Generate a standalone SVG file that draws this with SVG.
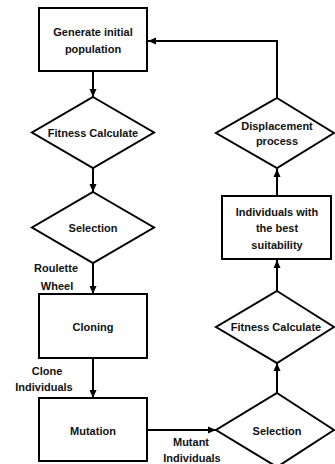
<svg xmlns="http://www.w3.org/2000/svg" width="335" height="464" viewBox="0 0 335 464">
<style>
.shape{fill:#fff;stroke:#000;stroke-width:2}
.conn{fill:none;stroke:#000;stroke-width:2}
text{font-family:"Liberation Sans",Arial,sans-serif;font-weight:bold;font-size:11px;fill:#111;text-anchor:middle}
</style>
<defs>
<marker id="arr" viewBox="0 0 8 8" refX="8" refY="4" markerWidth="8" markerHeight="8" markerUnits="userSpaceOnUse" orient="auto">
<path d="M0,0.5 L8,4 L0,7.5 Z" fill="#000"/>
</marker>
</defs>
<rect width="335" height="464" fill="#fff"/>
<g id="connectors">
<line class="conn" x1="93" y1="71" x2="93" y2="97" marker-end="url(#arr)"/>
<line class="conn" x1="93" y1="168" x2="93" y2="192" marker-end="url(#arr)"/>
<line class="conn" x1="93" y1="263" x2="93" y2="294" marker-end="url(#arr)"/>
<line class="conn" x1="93" y1="358" x2="93" y2="398" marker-end="url(#arr)"/>
<line class="conn" x1="147" y1="430" x2="216" y2="430" marker-end="url(#arr)"/>
<line class="conn" x1="277" y1="393" x2="277" y2="363" marker-end="url(#arr)"/>
<line class="conn" x1="277" y1="291" x2="277" y2="260" marker-end="url(#arr)"/>
<line class="conn" x1="277" y1="196" x2="277" y2="169" marker-end="url(#arr)"/>
<polyline class="conn" points="277,98 277,41 148,41" marker-end="url(#arr)"/>
<text x="56" y="272">Roulette</text>
<text x="57" y="290">Wheel</text>
<text x="47" y="375">Clone</text>
<text x="44" y="391">Individuals</text>
<text x="191" y="446">Mutant</text>
<text x="192" y="462">Individuals</text>
</g>
<g id="generate">
<rect class="shape" x="39" y="8" width="108" height="63"/>
<text x="93" y="36">Generate initial</text>
<text x="93" y="53">population</text>
</g>
<g id="fitness1">
<polygon class="shape" points="93,97 154,132.5 93,168 32,132.5"/>
<text x="93" y="137">Fitness Calculate</text>
</g>
<g id="selection1">
<polygon class="shape" points="93,192 154,227.5 93,263 32,227.5"/>
<text x="93" y="232">Selection</text>
</g>
<g id="cloning">
<rect class="shape" x="39" y="294" width="108" height="64"/>
<text x="93" y="331">Cloning</text>
</g>
<g id="mutation">
<rect class="shape" x="39" y="398" width="108" height="63"/>
<text x="93" y="435">Mutation</text>
</g>
<g id="selection2">
<polygon class="shape" points="277,393 334,430 277,467 216,430"/>
<text x="277" y="435">Selection</text>
</g>
<g id="fitness2">
<polygon class="shape" points="277,291 334,327 277,363 216,327"/>
<text x="276" y="331">Fitness Calculate</text>
</g>
<g id="best">
<rect class="shape" x="222" y="196" width="109" height="63"/>
<text x="277" y="216">Individuals with</text>
<text x="277" y="232">the best</text>
<text x="277" y="249">suitability</text>
</g>
<g id="displacement">
<polygon class="shape" points="277,98 334,133 277,168 216,133"/>
<text x="277" y="130">Displacement</text>
<text x="277" y="145">process</text>
</g>
</svg>
